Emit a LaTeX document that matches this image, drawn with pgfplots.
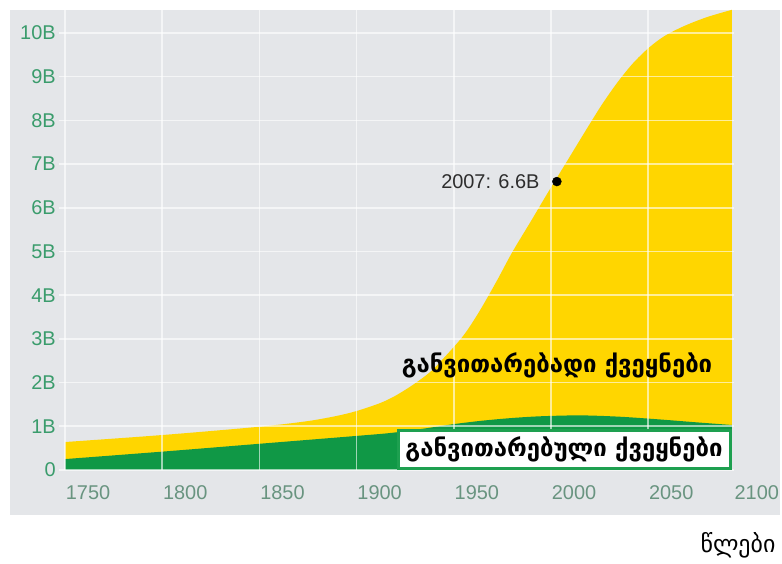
\documentclass[border=0pt]{standalone}
\usepackage{pgfplots}
\pgfplotsset{compat=1.18}
\usepackage{fontspec}
\setmainfont{Liberation Sans}
\newfontfamily\geo[Script=Georgian]{DejaVu Sans}

\definecolor{bg}{RGB}{228,230,233}
\definecolor{yel}{RGB}{255,214,0}
\definecolor{dgreen}{RGB}{16,152,70}
\definecolor{bgreen}{RGB}{30,160,80}
\definecolor{ylab}{RGB}{58,156,108}
\definecolor{xlab}{RGB}{105,148,128}
\definecolor{dtext}{RGB}{45,45,45}

\begin{document}
\begin{tikzpicture}[x=1bp,y=1bp]
\useasboundingbox (0,0) rectangle (782,564);
\fill[bg] (10,49) rectangle (780,554);
\begin{axis}[
    at={(59.2bp,94bp)}, anchor=south west,
    x=1.944bp, y=43.7bp,
    xmin=1747, xmax=2094, ymin=0, ymax=10.53,
    axis line style={draw=none}, major tick length=0,
    xtick={1750,1800,1850,1900,1950,2000,2050},
    xticklabels={1750,1800,1850,1900,1950,2000,2050},
    extra x ticks={2094}, extra x tick labels={2100},
    extra x tick style={grid=none},
    ytick={0,1,...,10},
    yticklabels={0,1B,2B,3B,4B,5B,6B,7B,8B,9B,10B},
    grid=major,
    major grid style={white, opacity=0.6, line width=1.6bp},
    axis on top,
    tick label style={font=\fontsize{20}{20}\selectfont},
    xticklabel style={text=xlab, xshift=23bp, yshift=-12bp},
    yticklabel style={text=ylab},
]
% world total
\addplot[fill=yel, draw=none, smooth] coordinates {
(1750,0.64) (1800,0.80) (1850,0.99) (1875,1.12) (1890,1.24) (1900,1.35)
(1912,1.53) (1920,1.70) (1929,1.95) (1938,2.25) (1946,2.62) (1955,3.08)
(1963,3.62) (1972,4.32) (1980,4.98) (1990,5.72) (1998,6.32) (2008,7.05)
(2018,7.78) (2026,8.35) (2034,8.86) (2042,9.30) (2050,9.65) (2058,9.92)
(2068,10.15) (2080,10.36) (2093,10.53)
} \closedcycle;
% developed countries
\addplot[fill=dgreen, draw=none, smooth] coordinates {
(1750,0.25) (1800,0.42) (1850,0.60) (1900,0.78) (1918,0.85) (1935,0.95)
(1950,1.05) (1965,1.13) (1980,1.19) (1995,1.23) (2015,1.25) (2035,1.22)
(2055,1.16) (2075,1.09) (2093,1.03)
} \closedcycle;
\addplot[only marks, mark=*, mark size=4.5bp, black] coordinates {(2003,6.6)};
\end{axis}
\node[font=\fontsize{20}{20}\selectfont, text=dtext, anchor=east] at (543,382) {2007: 6.6B};
\node[font=\geo\bfseries\fontsize{24}{24}\selectfont] at (557,199) {განვითარებადი ქვეყნები};
\draw[fill=white, draw=bgreen, line width=3bp] (398.5,95.5) rectangle (730.5,133.5);
\node[font=\geo\bfseries\fontsize{24}{24}\selectfont] at (564,114.5) {განვითარებული ქვეყნები};
\node[font=\geo\fontsize{24}{24}\selectfont] at (738,19) {წლები};
\end{tikzpicture}
\end{document}
